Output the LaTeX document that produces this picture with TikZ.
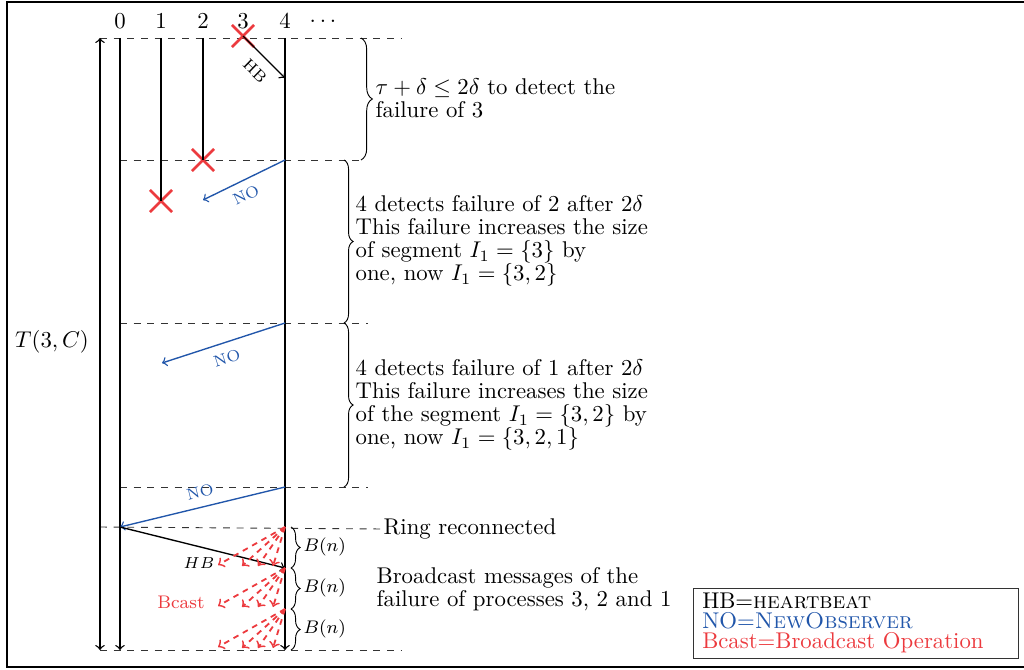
\documentclass[tikz,border=0pt]{standalone}
\usepackage{amssymb}
\usepackage{amsmath}
\usepackage{tikz}
\usetikzlibrary{decorations.pathreplacing,shapes.misc}

\definecolor{failred}{RGB}{236,58,62}
\definecolor{noblue}{RGB}{33,86,170}

\begin{document}
\begin{tikzpicture}[x=0.439pt, y=0.439pt, semithick]
				\tikzstyle{every node}+=[inner sep=0pt]
				\tikzstyle{crashmark}=[cross out, draw=failred, line width=1.1pt, minimum size=8.6pt]
				\tikzstyle{timeline}=[dashed, thin, black!80]
				\tikzstyle{bcast}=[->, thick, dash pattern=on 2.5pt off 2.2pt, failred]
				\tikzstyle{interval}=[decorate, thin, decoration={brace, amplitude=4pt}]
				\tikzstyle{note}=[anchor=west, align=left, font=\fontsize{10pt}{10.1pt}\selectfont]
				\useasboundingbox (0,0) rectangle (1024,-669);
				\draw [black, line width=0.9pt] (1030,-2) -- (7,-2) -- (7,-667) -- (1030,-667);
				% process numbers
				\draw (120,-21) node (l0) {0};
				\draw (161,-21) node (l1) {1};
				\draw (203,-21) node (l2) {2};
				\draw (243,-21) node (l3) {3};
				\draw (285,-21) node (l4) {4};
				\draw (323,-21) node (ldots) {$\ldots$};
				\coordinate (s0) at (120,-38);
				\coordinate (e0) at (120,-650);
				\coordinate (s1) at (161,-38);
				\coordinate (s2) at (203,-38);
				\coordinate (s4) at (285,-38);
				\coordinate (e4) at (285,-650);
				\coordinate (ttop) at (100,-38);
				\coordinate (tbot) at (100,-650);
				% time lines
				\draw [timeline] (ttop) -- (402,-38);
				\draw [timeline] (120,-160) -- (365,-160);
				\draw [timeline] (120,-323) -- (368,-323);
				\draw [timeline] (120,-487) -- (368,-487);
				\draw [timeline] (tbot) -- (402,-650);
				\draw (383,-529) node[anchor=west] (ring) {Ring reconnected};
				\draw [timeline] (100,-527) -- (ring.west);
				% crashes
				\draw (243,-36) node[crashmark] (c3) {};
				\draw (203,-160) node[crashmark] (c2) {};
				\draw (161,-201) node[crashmark] (c1) {};
				% processes
				\draw [->] (s0) -- (e0);
				\draw [black] (s1) -- (c1.center);
				\draw [black] (s2) -- (c2.center);
				\draw [->] (s4) -- (e4);
				\draw [<->] (ttop) -- (tbot);
				\draw (52,-342) node (tlabel) {$T(3,C)$};
				% messages
				\coordinate (hb4) at (285,-78);
				\coordinate (a1) at (285,-160);
				\coordinate (n1) at (203,-200);
				\coordinate (a2) at (285,-323);
				\coordinate (n2) at (162,-363);
				\coordinate (a3) at (285,-487);
				\coordinate (r0) at (120,-527);
				\coordinate (r4) at (285,-568);
				\draw [->] (c3.center) -- (hb4);
				\draw (255,-71) node[rotate=-44, font=\scriptsize] (hbtop) {HB};
				\draw [->, noblue] (a1) -- (n1);
				\draw (246,-195) node[rotate=26, font=\scriptsize, text=noblue] (no1) {NO};
				\draw [->, noblue] (a2) -- (n2);
				\draw (227,-358) node[rotate=18, font=\scriptsize, text=noblue] (no2) {NO};
				\draw [->, noblue] (a3) -- (r0);
				\draw (200,-492) node[rotate=14, font=\scriptsize, text=noblue] (no3) {NO};
				\draw [->] (r0) -- (r4);
				\draw (199,-563) node[font=\scriptsize] (hbbot) {$HB$};
				% broadcast
				\coordinate (b1) at (285,-527);
				\coordinate (b1a) at (218,-565);
				\coordinate (b1b) at (242,-566);
				\coordinate (b1c) at (258,-566);
				\coordinate (b1d) at (273,-566);
				\coordinate (b2) at (285,-568);
				\coordinate (b2a) at (218,-606);
				\coordinate (b2b) at (242,-607);
				\coordinate (b2c) at (258,-607);
				\coordinate (b2d) at (273,-607);
				\coordinate (b3) at (285,-609);
				\coordinate (b3a) at (218,-647);
				\coordinate (b3b) at (242,-648);
				\coordinate (b3c) at (258,-648);
				\coordinate (b3d) at (273,-648);
				\draw [bcast] (b1) -- (b1a);
				\draw [bcast] (b1) -- (b1b);
				\draw [bcast] (b1) -- (b1c);
				\draw [bcast] (b1) -- (b1d);
				\draw [bcast] (b2) -- (b2a);
				\draw [bcast] (b2) -- (b2b);
				\draw [bcast] (b2) -- (b2c);
				\draw [bcast] (b2) -- (b2d);
				\draw [bcast] (b3) -- (b3a);
				\draw [bcast] (b3) -- (b3b);
				\draw [bcast] (b3) -- (b3c);
				\draw [bcast] (b3) -- (b3d);
				\draw (181,-602) node[font=\footnotesize, text=failred] (bcastlbl) {Bcast};
				% braces and notes
				\draw [interval, decoration={amplitude=5pt}] (361,-38) -- (361,-160);
				\draw [interval] (344,-160) -- (344,-323);
				\draw [interval] (344,-323) -- (344,-487);
				\draw [interval] (291,-527) -- (291,-568);
				\draw [interval] (291,-568) -- (291,-609);
				\draw [interval] (291,-609) -- (291,-650);
				\draw (303,-547) node[anchor=west, font=\footnotesize] (bn1) {$B(n)$};
				\draw (303,-588) node[anchor=west, font=\footnotesize] (bn2) {$B(n)$};
				\draw (303,-629) node[anchor=west, font=\footnotesize] (bn3) {$B(n)$};
				\draw (375,-98) node[note] (detect3) {$\tau+\delta\leq 2\delta$ to detect the\\failure of 3};
				\draw (355,-241) node[note] (detect2) {4 detects failure of 2 after $2\delta$\\This failure increases the size\\of segment $I_1=\{3\}$ by\\one, now $I_1=\{3,2\}$};
				\draw (355,-405) node[note] (detect1) {4 detects failure of 1 after $2\delta$\\This failure increases the size\\of the segment $I_1=\{3,2\}$ by\\one, now $I_1=\{3,2,1\}$};
				\draw (376,-589) node[note] (bnote) {Broadcast messages of the\\failure of processes 3, 2 and 1};
				% legend
				\draw (856,-623) node[draw=black!80, thin, text width=135pt, minimum height=30.7pt, inner xsep=4pt, align=left, font=\fontsize{10pt}{8.6pt}\selectfont] (legend) {HB=\textsc{heartbeat}\\\textcolor{noblue}{NO=\textsc{NewObserver}}\\\textcolor{failred}{Bcast=Broadcast Operation}};
			\end{tikzpicture}
\end{document}
